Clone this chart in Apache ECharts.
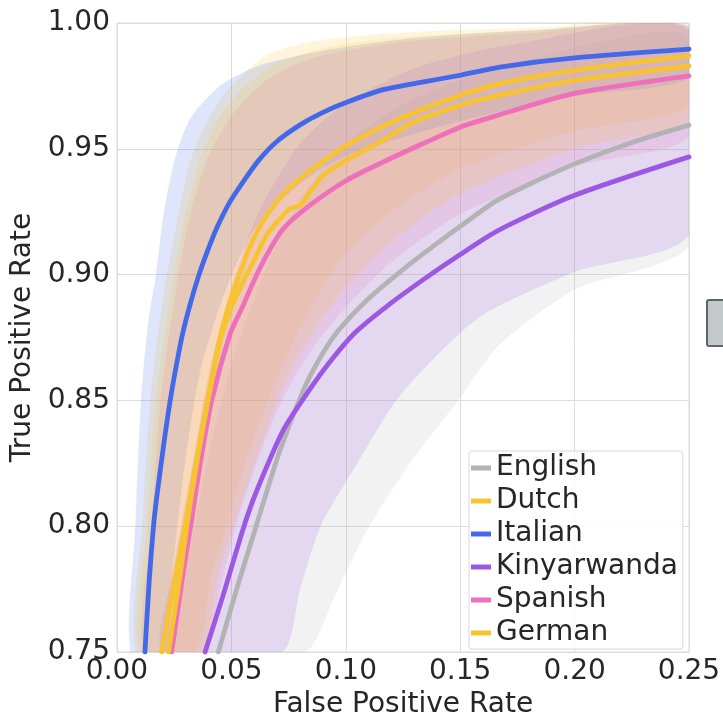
<!DOCTYPE html>
<html>
<head>
<meta charset="utf-8">
<script src="https://cdn.jsdelivr.net/npm/echarts@6/dist/echarts.min.js"></script>
<style>
  html, body { margin: 0; padding: 0; background: #ffffff; }
  #chart { width: 723px; height: 718px; }
</style>
</head>
<body>
<div id="chart"></div>
<script>
// Mean ROC curves, [false positive rate, true positive rate]
const languages = ['English', 'Dutch', 'Italian', 'Kinyarwanda', 'Spanish', 'German'];

const englishMean = [[0.0443,0.75],[0.0518,0.7735],[0.0608,0.80],[0.0708,0.829],[0.0812,0.8535],[0.0885,0.8665],[0.0965,0.8775],[0.11,0.8905],[0.125,0.902],[0.14,0.9125],[0.1525,0.9208],[0.1652,0.929],[0.18,0.9358],[0.20,0.944],[0.225,0.9525],[0.25,0.9594]];
const dutchMean = [[0.0195,0.75],[0.0255,0.78],[0.0297,0.80],[0.0345,0.825],[0.0395,0.85],[0.0448,0.874],[0.049,0.888],[0.0535,0.9],[0.0585,0.9118],[0.064,0.9215],[0.0727,0.932],[0.0844,0.9412],[0.1004,0.9514],[0.1164,0.959],[0.1353,0.9664],[0.1503,0.9713],[0.1674,0.9759],[0.20,0.9812],[0.25,0.9869]];
const italianMean = [[0.0122,0.75],[0.0141,0.7786],[0.0159,0.7995],[0.0174,0.8117],[0.0203,0.8316],[0.0232,0.8497],[0.0261,0.8647],[0.0287,0.8766],[0.0319,0.888],[0.0355,0.899],[0.0392,0.9085],[0.0436,0.9185],[0.0494,0.929],[0.0552,0.937],[0.062,0.9455],[0.07,0.953],[0.08,0.9595],[0.09,0.9645],[0.1004,0.9685],[0.1164,0.9735],[0.1353,0.9768],[0.1503,0.9793],[0.1674,0.9825],[0.20,0.9861],[0.25,0.9896]];
const kinyarwandaMean = [[0.0385,0.75],[0.0462,0.772],[0.0555,0.80],[0.0612,0.8144],[0.0727,0.8382],[0.0835,0.8534],[0.0925,0.8647],[0.104,0.8769],[0.1185,0.8878],[0.1345,0.8984],[0.1495,0.9077],[0.1665,0.9175],[0.20,0.9315],[0.25,0.9468]];
const spanishMean = [[0.0239,0.75],[0.0287,0.78],[0.0322,0.80],[0.0364,0.825],[0.0414,0.85],[0.0495,0.8766],[0.0545,0.8865],[0.0596,0.8971],[0.0654,0.9077],[0.0727,0.9183],[0.0844,0.9276],[0.1004,0.9375],[0.1164,0.9448],[0.1353,0.9527],[0.1503,0.9587],[0.1674,0.9636],[0.20,0.972],[0.25,0.979]];
const germanMean = [[0.0225,0.75],[0.0275,0.78],[0.0305,0.80],[0.0348,0.825],[0.0398,0.85],[0.0452,0.874],[0.0497,0.8865],[0.0548,0.8965],[0.0598,0.9055],[0.0654,0.9157],[0.0756,0.9263],[0.080,0.9275],[0.0844,0.9329],[0.0902,0.9395],[0.1004,0.9455],[0.1164,0.9535],[0.1295,0.9605],[0.1503,0.9673],[0.1674,0.9713],[0.20,0.9772],[0.25,0.9829]];

// Spread bands (upper / left edge and lower / right edge of each curve)
const englishUpper = [[0.025,0.75],[0.03,0.78],[0.036,0.81],[0.043,0.84],[0.052,0.87],[0.064,0.90],[0.08,0.93],[0.10,0.952],[0.13,0.97],[0.17,0.983],[0.25,0.994]];
const englishLower = [[0.082,0.75],[0.095,0.772],[0.109,0.798],[0.128,0.825],[0.15,0.851],[0.167,0.872],[0.20,0.894],[0.25,0.912]];
const dutchUpper = [[0.0085,0.75],[0.011,0.80],[0.0145,0.85],[0.02,0.89],[0.026,0.92],[0.032,0.945],[0.04,0.962],[0.05,0.975],[0.0654,0.9872],[0.0844,0.9925],[0.12,0.996],[0.18,0.998],[0.25,0.999]];
const dutchLower = [[0.034,0.75],[0.041,0.78],[0.048,0.80],[0.056,0.825],[0.066,0.85],[0.078,0.875],[0.09,0.895],[0.10,0.908],[0.12,0.925],[0.15,0.942],[0.20,0.957],[0.25,0.967]];
const italianUpper = [[0.006,0.75],[0.008,0.80],[0.0105,0.85],[0.0135,0.88],[0.017,0.90],[0.0203,0.9236],[0.025,0.945],[0.032,0.962],[0.045,0.975],[0.0625,0.9832],[0.09,0.989],[0.13,0.994],[0.18,0.997],[0.25,0.999]];
const italianLower = [[0.021,0.75],[0.024,0.78],[0.029,0.82],[0.036,0.86],[0.046,0.89],[0.06,0.918],[0.08,0.936],[0.10,0.947],[0.15,0.961],[0.20,0.971],[0.25,0.978]];
const kinyarwandaUpper = [[0.02,0.75],[0.024,0.78],[0.028,0.80],[0.034,0.83],[0.04,0.86],[0.05,0.895],[0.062,0.925],[0.08,0.952],[0.10,0.968],[0.13,0.982],[0.17,0.991],[0.25,0.997]];
const kinyarwandaLower = [[0.072,0.75],[0.08,0.775],[0.089,0.80],[0.105,0.825],[0.122,0.85],[0.14,0.868],[0.16,0.884],[0.20,0.901],[0.25,0.916]];
const spanishUpper = [[0.012,0.75],[0.015,0.80],[0.019,0.85],[0.025,0.89],[0.031,0.92],[0.039,0.945],[0.05,0.963],[0.065,0.977],[0.085,0.986],[0.12,0.992],[0.18,0.996],[0.25,0.998]];
const spanishLower = [[0.038,0.75],[0.045,0.775],[0.052,0.80],[0.061,0.825],[0.072,0.85],[0.085,0.87],[0.10,0.887],[0.12,0.905],[0.15,0.924],[0.20,0.943],[0.25,0.955]];
const germanUpper = [[0.01,0.75],[0.013,0.80],[0.017,0.85],[0.023,0.89],[0.029,0.92],[0.036,0.945],[0.045,0.963],[0.056,0.975],[0.07,0.984],[0.09,0.99],[0.12,0.994],[0.18,0.997],[0.25,0.998]];
const germanLower = [[0.037,0.75],[0.044,0.78],[0.051,0.80],[0.06,0.825],[0.07,0.85],[0.082,0.872],[0.10,0.895],[0.12,0.913],[0.15,0.932],[0.20,0.95],[0.25,0.962]];

// Axis ticks
const xTicks = { min: 0, max: 0.25, step: 0.05 };
const yTicks = { min: 0.75, max: 1.0, step: 0.05 };

const colors = {
  English: '#b3b3b3',
  Dutch: '#f7c331',
  Italian: '#4468ea',
  Kinyarwanda: '#9c58e2',
  Spanish: '#ee70bb',
  German: '#f7c331'
};

const means = { English: englishMean, Dutch: dutchMean, Italian: italianMean, Kinyarwanda: kinyarwandaMean, Spanish: spanishMean, German: germanMean };
const uppers = { English: englishUpper, Dutch: dutchUpper, Italian: italianUpper, Kinyarwanda: kinyarwandaUpper, Spanish: spanishUpper, German: germanUpper };
const lowers = { English: englishLower, Dutch: dutchLower, Italian: italianLower, Kinyarwanda: kinyarwandaLower, Spanish: spanishLower, German: germanLower };

const FONT = 'DejaVu Sans';
const TEXT = '#262626';

function bandSeries(lang) {
  const poly = uppers[lang].concat(lowers[lang].slice().reverse());
  return {
    name: lang + ' spread',
    type: 'custom',
    coordinateSystem: 'cartesian2d',
    clip: true,
    silent: true,
    z: 1,
    data: [[0.1, 0.9]],
    renderItem: function (params, api) {
      return {
        type: 'polygon',
        shape: { points: poly.map(function (p) { return api.coord(p); }), smooth: 0.25 },
        style: { fill: colors[lang], opacity: 0.17 }
      };
    }
  };
}

function lineSeries(lang) {
  return {
    name: lang,
    type: 'line',
    data: means[lang],
    showSymbol: false,
    smooth: 0.25,
    clip: true,
    z: 3,
    color: colors[lang],
    lineStyle: { width: 4.8, color: colors[lang], cap: 'round' }
  };
}

const chart = echarts.init(document.getElementById('chart'), null, { renderer: 'canvas' });
chart.setOption({
  animation: false,
  backgroundColor: '#ffffff',
  grid: {
    left: 117, top: 23, width: 572, height: 629,
    containLabel: false, outerBoundsMode: 'none',
    show: true, borderColor: '#dadada', borderWidth: 1, backgroundColor: 'transparent'
  },
  xAxis: {
    type: 'value', min: xTicks.min, max: xTicks.max, interval: xTicks.step,
    name: 'False Positive Rate', nameLocation: 'middle', nameGap: 37,
    nameTextStyle: { fontFamily: FONT, fontSize: 28, color: TEXT },
    axisLine: { show: false }, axisTick: { show: false },
    axisLabel: { fontFamily: FONT, fontSize: 28, color: TEXT, margin: 6, formatter: function (v) { return v.toFixed(2); } },
    splitLine: { show: true, lineStyle: { color: '#dcdcdc', width: 1 } }
  },
  yAxis: {
    type: 'value', min: yTicks.min, max: yTicks.max, interval: yTicks.step,
    name: 'True Positive Rate', nameLocation: 'middle', nameGap: 73,
    nameTextStyle: { fontFamily: FONT, fontSize: 28, color: TEXT },
    axisLine: { show: false }, axisTick: { show: false },
    axisLabel: { fontFamily: FONT, fontSize: 28, color: TEXT, margin: 7, formatter: function (v) { return v.toFixed(2); } },
    splitLine: { show: true, lineStyle: { color: '#dcdcdc', width: 1 } }
  },
  legend: {
    orient: 'vertical', left: 469, top: 451,
    data: languages,
    icon: 'rect', itemWidth: 20, itemHeight: 5, itemGap: 5,
    backgroundColor: 'rgba(255,255,255,0.8)', borderColor: '#d8d8d8', borderWidth: 1, borderRadius: 3,
    padding: [3, 5, 2, 2],
    textStyle: { fontFamily: FONT, fontSize: 28, color: TEXT, lineHeight: 14, padding: [0, 0, 14, 0] }
  },
  graphic: [{
    type: 'rect', left: 706, top: 299, silent: true,
    shape: { width: 30, height: 46, r: 2 },
    style: { fill: '#c3c9cb', stroke: '#5e666a', lineWidth: 2 }
  }],
  series: languages.map(bandSeries).concat(languages.map(lineSeries))
});
</script>
</body>
</html>
